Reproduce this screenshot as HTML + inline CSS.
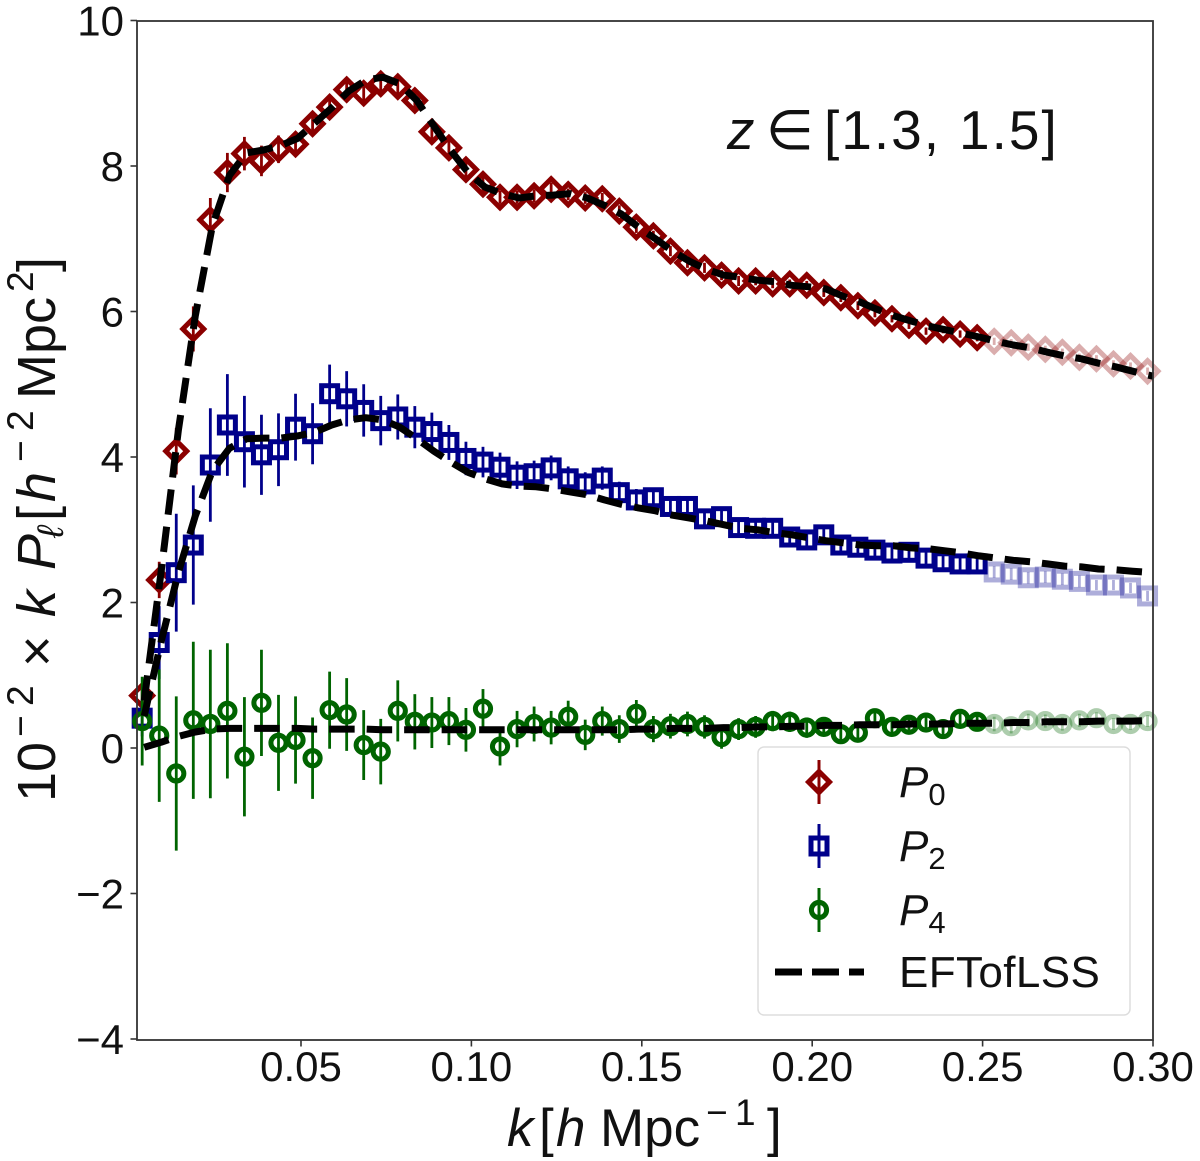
<!DOCTYPE html>
<html>
<head>
<meta charset="utf-8">
<style>
html,body{margin:0;padding:0;background:#fff;}
svg{display:block;font-family:"Liberation Sans","DejaVu Sans",sans-serif;}
</style>
</head>
<body>
<svg id="chart" width="1200" height="1161" viewBox="0 0 1200 1161" xmlns="http://www.w3.org/2000/svg">
  <rect x="0" y="0" width="1200" height="1161" fill="#fff"/>
  <g id="marks"></g>
  <rect x="137" y="21" width="1016" height="1019" fill="none" stroke="#333" stroke-width="1.8"/>
  <g id="ticks"></g>
  <text y="149" font-size="55" fill="#111"><tspan x="727" font-style="italic">z</tspan><tspan x="766">∈</tspan><tspan x="824" letter-spacing="2">[1.3,</tspan><tspan x="959" letter-spacing="2">1.5]</tspan></text>
  <text y="1146" font-size="53" fill="#111"><tspan x="507" font-style="italic">k</tspan><tspan x="539">[</tspan><tspan x="556" font-style="italic">h</tspan><tspan x="600">Mpc</tspan><tspan x="706" font-size="37" dy="-21">−</tspan><tspan x="735" font-size="37">1</tspan><tspan x="767" dy="21">]</tspan></text>
  <text transform="translate(55,802) rotate(-90)" x="0" y="0" font-size="54" fill="#111"><tspan x="0">10</tspan><tspan x="65" font-size="37" dy="-22">−</tspan><tspan x="96" font-size="37">2</tspan><tspan x="135" dy="22">×</tspan><tspan x="185" font-style="italic">k</tspan><tspan x="232" font-style="italic">P</tspan><tspan x="264" font-size="37" font-style="italic" dy="8">ℓ</tspan><tspan x="281" dy="-8">[</tspan><tspan x="300" font-style="italic">h</tspan><tspan x="340" font-size="37" dy="-22">−</tspan><tspan x="371" font-size="37">2</tspan><tspan x="403" dy="22">Mpc</tspan><tspan x="510" font-size="37" dy="-22">2</tspan><tspan x="530" dy="22">]</tspan></text>
  <g id="legend">
    <rect x="758" y="747" width="372" height="268" rx="6" fill="#fff" fill-opacity="0.85" stroke="#ddd" stroke-width="1.5"/>
    <g>
      <line x1="819" x2="819" y1="760" y2="804" stroke="#8b0000" stroke-width="3"/>
      <path d="M819 771.5L829.5 782L819 792.5L808.5 782Z" fill="none" stroke="#8b0000" stroke-width="5"/>
      <text x="899" y="797" font-size="44" font-style="italic" fill="#111">P<tspan font-size="31" dy="8" font-style="normal">0</tspan></text>
    </g>
    <g>
      <line x1="819" x2="819" y1="824" y2="868" stroke="#00008b" stroke-width="3"/>
      <rect x="811" y="838" width="16" height="16" fill="none" stroke="#00008b" stroke-width="5"/>
      <text x="899" y="861" font-size="44" font-style="italic" fill="#111">P<tspan font-size="31" dy="8" font-style="normal">2</tspan></text>
    </g>
    <g>
      <line x1="819" x2="819" y1="888" y2="932" stroke="#006400" stroke-width="3"/>
      <circle cx="819" cy="910" r="7.6" fill="none" stroke="#006400" stroke-width="5"/>
      <text x="899" y="925" font-size="44" font-style="italic" fill="#111">P<tspan font-size="31" dy="8" font-style="normal">4</tspan></text>
    </g>
    <g>
      <line x1="775" x2="864" y1="972" y2="972" stroke="#000" stroke-width="7" stroke-dasharray="27 10"/>
      <text x="899" y="987" font-size="44" letter-spacing="0.4" fill="#111">EFTofLSS</text>
    </g>
  </g>
</svg>
<script>
const xTicks = [0.05, 0.10, 0.15, 0.20, 0.25, 0.30];
const xTickLabels = ["0.05", "0.10", "0.15", "0.20", "0.25", "0.30"];
const yTicks = [-4, -2, 0, 2, 4, 6, 8, 10];
const yTickLabels = ["−4", "−2", "0", "2", "4", "6", "8", "10"];

const kData = [0.0034,0.0084,0.0134,0.0184,0.0234,0.0284,0.0334,0.0384,0.0434,0.0484,
  0.0534,0.0584,0.0634,0.0684,0.0734,0.0784,0.0834,0.0884,0.0934,0.0984,
  0.1034,0.1084,0.1134,0.1184,0.1234,0.1284,0.1334,0.1384,0.1434,0.1484,
  0.1534,0.1584,0.1634,0.1684,0.1734,0.1784,0.1834,0.1884,0.1934,0.1984,
  0.2034,0.2084,0.2134,0.2184,0.2234,0.2284,0.2334,0.2384,0.2434,0.2484,
  0.2534,0.2584,0.2634,0.2684,0.2734,0.2784,0.2834,0.2884,0.2934,0.2984];
const fitLimitK = 0.25;

const p0Values = [0.72,2.31,4.08,5.76,7.26,7.91,8.17,8.07,8.23,8.30,
  8.58,8.81,9.05,9.00,9.13,9.09,8.90,8.47,8.25,7.95,
  7.75,7.57,7.57,7.59,7.68,7.61,7.56,7.55,7.38,7.16,
  7.04,6.83,6.67,6.60,6.50,6.42,6.42,6.38,6.38,6.36,
  6.26,6.19,6.08,5.98,5.90,5.81,5.73,5.75,5.69,5.64,
  5.59,5.57,5.51,5.48,5.44,5.37,5.35,5.28,5.25,5.18];
const p0Errors = [0.10,0.25,0.32,0.31,0.30,0.27,0.23,0.21,0.19,0.17,
  0.16,0.15,0.14,0.13,0.12,0.12,0.11,0.11,0.10,0.10,
  0.10,0.09,0.09,0.09,0.09,0.08,0.08,0.08,0.08,0.08,
  0.07,0.07,0.07,0.07,0.07,0.07,0.06,0.06,0.06,0.06,
  0.06,0.06,0.06,0.06,0.05,0.05,0.05,0.05,0.05,0.05,
  0.05,0.05,0.05,0.05,0.05,0.05,0.05,0.05,0.05,0.05];

const p2Values = [0.41,1.45,2.41,2.79,3.89,4.44,4.21,4.03,4.10,4.41,
  4.32,4.87,4.80,4.64,4.50,4.55,4.41,4.35,4.20,3.98,
  3.93,3.86,3.75,3.77,3.85,3.70,3.63,3.71,3.51,3.41,
  3.44,3.32,3.32,3.15,3.18,3.03,3.02,3.02,2.90,2.86,
  2.93,2.79,2.76,2.72,2.68,2.69,2.61,2.56,2.53,2.53,
  2.42,2.39,2.34,2.35,2.32,2.29,2.24,2.24,2.20,2.09];
const p2Errors = [0.25,0.50,0.81,0.82,0.78,0.70,0.63,0.55,0.50,0.46,
  0.42,0.40,0.38,0.36,0.34,0.31,0.29,0.26,0.24,0.23,
  0.21,0.20,0.19,0.18,0.17,0.17,0.16,0.16,0.15,0.15,
  0.14,0.14,0.13,0.13,0.13,0.12,0.12,0.12,0.11,0.11,
  0.11,0.10,0.10,0.10,0.10,0.09,0.09,0.09,0.09,0.09,
  0.08,0.08,0.08,0.08,0.08,0.08,0.07,0.07,0.07,0.07];

const p4Values = [0.37,0.17,-0.35,0.38,0.33,0.51,-0.12,0.62,0.07,0.11,
  -0.14,0.52,0.46,0.04,-0.05,0.51,0.36,0.35,0.37,0.25,
  0.54,0.02,0.26,0.33,0.28,0.43,0.18,0.37,0.26,0.47,
  0.26,0.30,0.33,0.29,0.15,0.26,0.29,0.37,0.36,0.28,
  0.29,0.19,0.21,0.41,0.29,0.32,0.35,0.26,0.40,0.36,
  0.33,0.30,0.38,0.37,0.33,0.38,0.41,0.33,0.33,0.37];
const p4Errors = [0.61,0.91,1.06,1.08,1.02,0.93,0.82,0.73,0.66,0.60,
  0.56,0.53,0.50,0.48,0.45,0.42,0.38,0.35,0.33,0.30,
  0.27,0.26,0.25,0.24,0.23,0.22,0.21,0.20,0.19,0.19,
  0.18,0.17,0.17,0.16,0.16,0.15,0.15,0.14,0.14,0.14,
  0.13,0.13,0.12,0.12,0.12,0.11,0.11,0.11,0.10,0.10,
  0.10,0.10,0.09,0.09,0.09,0.09,0.08,0.08,0.08,0.08];

const kModel = [0.004,0.009,0.014,0.019,0.024,0.029,0.034,0.039,0.044,0.049,
  0.054,0.059,0.064,0.069,0.074,0.079,0.084,0.089,0.094,0.099,
  0.104,0.109,0.114,0.119,0.124,0.129,0.134,0.139,0.144,0.149,
  0.154,0.159,0.164,0.169,0.174,0.179,0.184,0.189,0.194,0.199,
  0.204,0.209,0.214,0.219,0.224,0.229,0.234,0.239,0.244,0.249,
  0.254,0.259,0.264,0.269,0.274,0.279,0.284,0.289,0.294,0.300];
const p0Model = [0.65,2.44,4.36,5.94,7.18,7.87,8.18,8.22,8.28,8.38,
  8.59,8.80,9.03,9.18,9.22,9.13,8.90,8.55,8.21,7.91,
  7.71,7.62,7.56,7.59,7.60,7.62,7.56,7.46,7.34,7.16,
  7.00,6.83,6.69,6.58,6.50,6.47,6.43,6.41,6.36,6.34,
  6.31,6.21,6.13,6.03,5.94,5.87,5.80,5.75,5.70,5.65,
  5.59,5.54,5.50,5.44,5.39,5.35,5.29,5.24,5.18,5.11];
const p2Model = [0.44,1.47,2.41,3.19,3.81,4.12,4.25,4.26,4.26,4.29,
  4.34,4.44,4.51,4.54,4.51,4.41,4.25,4.08,3.93,3.79,
  3.70,3.63,3.60,3.59,3.56,3.52,3.48,3.41,3.35,3.30,
  3.26,3.20,3.16,3.12,3.07,3.02,3.00,2.96,2.93,2.89,
  2.85,2.82,2.79,2.78,2.78,2.75,2.74,2.71,2.68,2.64,
  2.61,2.58,2.56,2.53,2.50,2.49,2.46,2.45,2.43,2.41];
const p4Model = [0.01,0.08,0.16,0.22,0.26,0.27,0.27,0.27,0.27,0.27,
  0.26,0.26,0.26,0.26,0.25,0.25,0.25,0.25,0.25,0.25,
  0.25,0.25,0.25,0.25,0.25,0.25,0.25,0.25,0.25,0.26,
  0.26,0.27,0.27,0.27,0.28,0.28,0.29,0.29,0.30,0.30,
  0.31,0.31,0.32,0.32,0.32,0.33,0.33,0.33,0.34,0.34,
  0.34,0.35,0.35,0.36,0.36,0.36,0.37,0.37,0.37,0.38];

const NS = 'http://www.w3.org/2000/svg';
const plotLeft = 137, plotRight = 1153, plotTop = 21, plotBottom = 1040;
const xMin = 0.00188, xMax = 0.30, yMin = -4, yMax = 10;
function xScale(k) { return plotLeft + (k - xMin) / (xMax - xMin) * (plotRight - plotLeft); }
function yScale(v) { return 1039 - (v - yMin) / (yMax - yMin) * (1039 - 20.5); }
function make(tag, attrs, parent) {
  const el = document.createElementNS(NS, tag);
  for (const key in attrs) el.setAttribute(key, attrs[key]);
  parent.appendChild(el);
  return el;
}
const marks = document.getElementById('marks');
const ticks = document.getElementById('ticks');

function drawMarker(shape, cx, cy, color, alpha, parent) {
  const common = { fill: 'none', stroke: color, 'stroke-width': 5, 'stroke-opacity': alpha };
  if (shape === 'diamond') {
    const d = 10.5;
    common.d = 'M' + cx + ' ' + (cy - d) + 'L' + (cx + d) + ' ' + cy + 'L' + cx + ' ' + (cy + d) + 'L' + (cx - d) + ' ' + cy + 'Z';
    return make('path', common, parent);
  }
  if (shape === 'square') {
    common.x = cx - 8; common.y = cy - 8; common.width = 16; common.height = 16;
    return make('rect', common, parent);
  }
  common.cx = cx; common.cy = cy; common.r = 7.6;
  return make('circle', common, parent);
}

function drawSeries(name, values, errors, shape, color) {
  const group = make('g', {}, marks);
  
  
  kData.forEach(function (k, i) {
    const cx = xScale(k);
    const alpha = k > fitLimitK ? 0.32 : 1;
    const err = make('line', { x1: cx, x2: cx, y1: yScale(values[i] - errors[i]), y2: yScale(values[i] + errors[i]), stroke: color, 'stroke-width': 2.8, 'stroke-opacity': alpha }, group);
    
    
    const m = drawMarker(shape, cx, yScale(values[i]), color, alpha, group);
    
    
  });
}

function drawModel(name, values) {
  const pts = kModel.map(function (k, i) { return xScale(k).toFixed(1) + ',' + yScale(values[i]).toFixed(1); }).join(' ');
  const line = make('polyline', { points: pts, fill: 'none', stroke: '#000', 'stroke-width': 7, 'stroke-dasharray': '25.5 12', 'stroke-linejoin': 'round' }, marks);
  
  
}

drawSeries('p0', p0Values, p0Errors, 'diamond', '#8b0000');
drawSeries('p2', p2Values, p2Errors, 'square', '#00008b');
drawSeries('p4', p4Values, p4Errors, 'circle', '#006400');
drawModel('p0', p0Model);
drawModel('p2', p2Model);
drawModel('p4', p4Model);

xTicks.forEach(function (t, i) {
  const x = xScale(t);
  const tick = make('line', { x1: x, x2: x, y1: plotBottom, y2: plotBottom + 6.5, stroke: '#333', 'stroke-width': 1.6 }, ticks);
  
  
  const label = make('text', { x: x, y: 1081, 'font-size': 42, 'text-anchor': 'middle', fill: '#111' }, ticks);
  
  
  label.textContent = xTickLabels[i];
});
yTicks.forEach(function (t, i) {
  const y = yScale(t);
  const tick = make('line', { x1: plotLeft - 6.5, x2: plotLeft, y1: y, y2: y, stroke: '#333', 'stroke-width': 1.6 }, ticks);
  
  
  const label = make('text', { x: 124, y: y + 15, 'font-size': 42, 'text-anchor': 'end', fill: '#111' }, ticks);
  
  
  label.textContent = yTickLabels[i];
});
</script>
</body>
</html>
